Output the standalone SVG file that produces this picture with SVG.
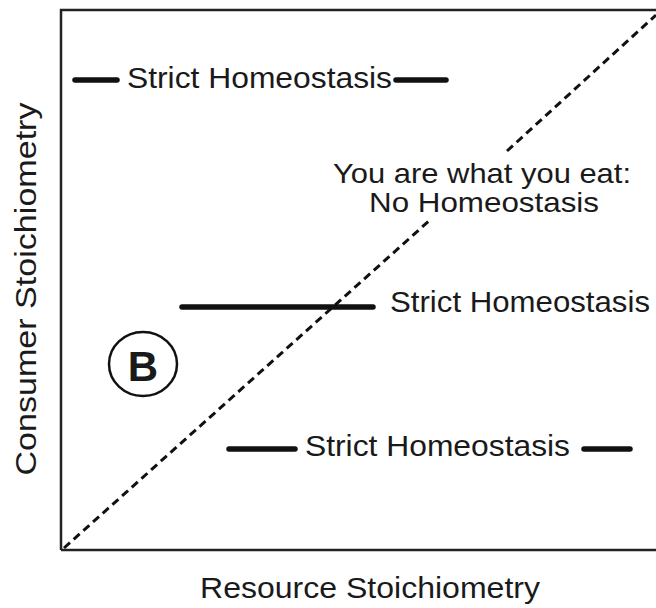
<svg xmlns="http://www.w3.org/2000/svg" width="656" height="608" viewBox="0 0 656 608">
<style>
.t{font-family:"Liberation Sans",Arial,Helvetica,sans-serif;fill:#1a1a1a;}
.bar{stroke:#111;stroke-width:5.5;stroke-linecap:round;fill:none;}
.axis{stroke:#222;stroke-width:2.5;fill:none;}
.diag{stroke:#111;stroke-width:3;stroke-dasharray:8 5;fill:none;}
</style>
<rect width="656" height="608" fill="#fff"/>
<g id="axes">
<polyline class="axis" points="61,550 61,10 656,10"/>
<line class="axis" x1="61" y1="550" x2="656" y2="550"/>
</g>
<g id="connectors">
<line class="diag" x1="64" y1="548" x2="430" y2="220"/>
<line class="diag" x1="507" y1="151" x2="656" y2="15"/>
</g>
<g id="node-top">
<line class="bar" x1="75" y1="80" x2="117" y2="80"/>
<text class="t" x="127" y="88" font-size="29" textLength="265" lengthAdjust="spacingAndGlyphs">Strict Homeostasis</text>
<line class="bar" x1="396" y1="80" x2="446" y2="80"/>
</g>
<g id="node-no">
<text class="t" x="482" y="183" font-size="28" text-anchor="middle" textLength="298" lengthAdjust="spacingAndGlyphs">You are what you eat:</text>
<text class="t" x="484" y="212" font-size="28" text-anchor="middle" textLength="230" lengthAdjust="spacingAndGlyphs">No Homeostasis</text>
</g>
<g id="node-mid">
<line class="bar" x1="182" y1="307" x2="373" y2="307"/>
<text class="t" x="390" y="312" font-size="29" textLength="260" lengthAdjust="spacingAndGlyphs">Strict Homeostasis</text>
</g>
<g id="node-bottom">
<line class="bar" x1="229" y1="449" x2="295" y2="449"/>
<text class="t" x="305" y="456" font-size="29" textLength="265" lengthAdjust="spacingAndGlyphs">Strict Homeostasis</text>
<line class="bar" x1="584" y1="449" x2="630" y2="449"/>
</g>
<g id="node-B">
<ellipse cx="143" cy="364" rx="34" ry="32" fill="none" stroke="#111" stroke-width="2.5"/>
<text class="t" x="143" y="381" font-size="42" font-weight="bold" text-anchor="middle">B</text>
</g>
<g id="labels">
<text class="t" x="370" y="598" font-size="29" text-anchor="middle" textLength="340" lengthAdjust="spacingAndGlyphs">Resource Stoichiometry</text>
<text class="t" transform="translate(36,289) rotate(-90)" x="0" y="0" font-size="29" text-anchor="middle" textLength="373" lengthAdjust="spacingAndGlyphs">Consumer Stoichiometry</text>
</g>
</svg>
